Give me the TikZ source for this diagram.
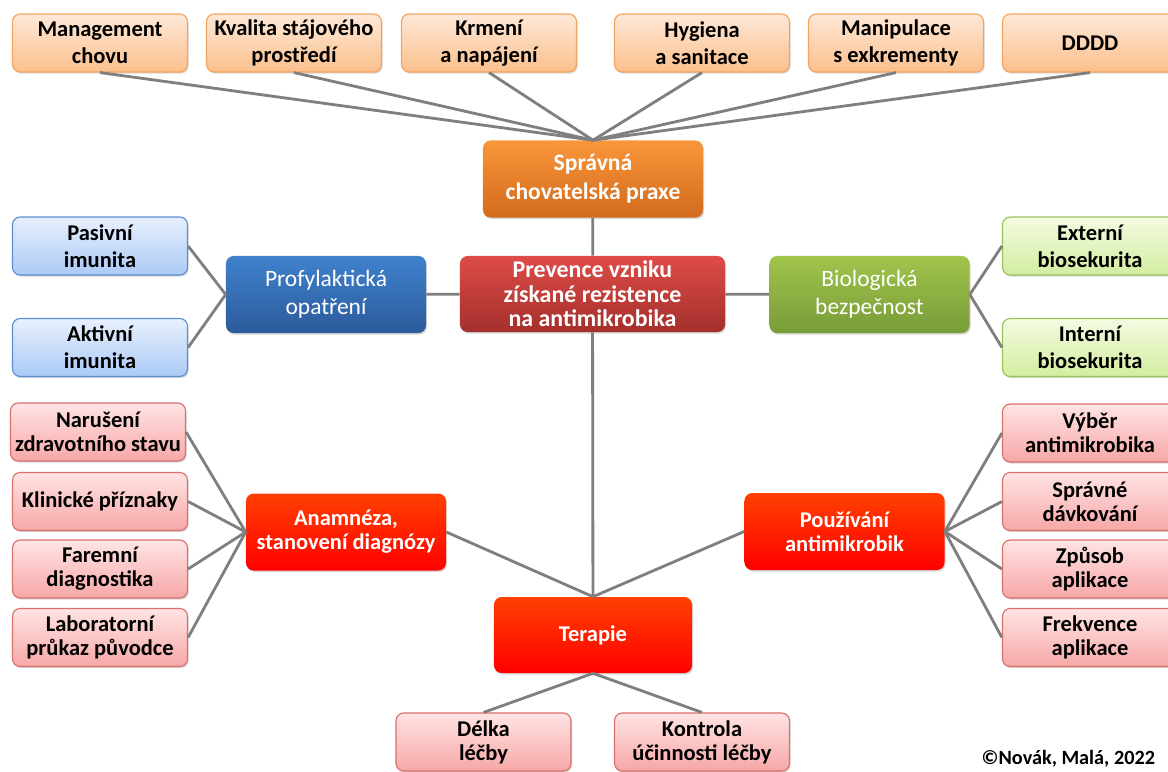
\documentclass[tikz,border=0pt]{standalone}
\usepackage{fontspec}
\setmainfont{Carlito}
\usepackage{xcolor}
\usetikzlibrary{shadows}

\definecolor{peachtop}{HTML}{FEE8D8}
\definecolor{peachbot}{HTML}{FBC08C}
\definecolor{peachrim}{HTML}{F6A35E}
\definecolor{orangetop}{HTML}{F9963A}
\definecolor{orangebot}{HTML}{D26A1C}
\definecolor{darkredtop}{HTML}{DE4C48}
\definecolor{darkredbot}{HTML}{A32F2C}
\definecolor{bluetop}{HTML}{3F81CD}
\definecolor{bluebot}{HTML}{2C5B9B}
\definecolor{greentop}{HTML}{A0C44B}
\definecolor{greenbot}{HTML}{789C38}
\definecolor{skytop}{HTML}{E8F0FD}
\definecolor{skybot}{HTML}{ABCAF6}
\definecolor{skyrim}{HTML}{5B8ED6}
\definecolor{limetop}{HTML}{F4FBE2}
\definecolor{limebot}{HTML}{D3EDA0}
\definecolor{limerim}{HTML}{9BC458}
\definecolor{pinktop}{HTML}{FFE4E4}
\definecolor{pinkbot}{HTML}{F7A7A7}
\definecolor{pinkrim}{HTML}{D8706C}
\definecolor{firetop}{HTML}{FF4000}
\definecolor{firebot}{HTML}{FF0000}
\definecolor{linkgray}{HTML}{7F7F7F}

\begin{document}
\begin{tikzpicture}[x=0.025cm,y=-0.025cm,
		box/.style={rectangle,rounded corners=5.5pt,align=center,inner sep=1pt,
			drop shadow={opacity=0.3,shadow xshift=0.8pt,shadow yshift=-1.2pt}},
		leaf/.style={box,minimum width=4.375cm,minimum height=1.45cm,line width=0.8pt,
			font=\bfseries\fontsize{16}{19}\selectfont},
		peachleaf/.style={leaf,draw=peachrim,top color=peachtop,bottom color=peachbot},
		skyleaf/.style={leaf,draw=skyrim,top color=skytop,bottom color=skybot},
		limeleaf/.style={leaf,draw=limerim,top color=limetop,bottom color=limebot},
		pinkleaf/.style={leaf,draw=pinkrim,top color=pinktop,bottom color=pinkbot,
			font=\bfseries\fontsize{16}{17}\selectfont},
		hub/.style={box,text=white,minimum width=5cm,minimum height=1.925cm,
			font=\bfseries\fontsize{16}{17}\selectfont},
		lighthub/.style={hub,font=\fontsize{16.7}{20}\selectfont},
		firehub/.style={hub,top color=firetop,bottom color=firebot},
		link/.style={draw=linkgray,line width=2pt}]
	\clip (0,0) rectangle (1168,771);
	\fill[white] (0,0) rectangle (1168,771);

	% horni rada
	\node[peachleaf] (management) at (100,43) {Management\\chovu};
	\node[peachleaf] (kvalita) at (294,43) {Kvalita stájového\\prostředí};
	\node[peachleaf] (krmeni) at (489,43) {Krmení\\a napájení};
	\node[peachleaf] (hygiena) at (702,43) {Hygiena\\a sanitace};
	\node[peachleaf] (manipulace) at (896,43) {Manipulace\\s exkrementy};
	\node[peachleaf] (dddd) at (1090,43) {DDDD};

	% hlavni uzly
	\node[hub,minimum width=5.5cm,top color=orangetop,bottom color=orangebot,
		font=\bfseries\fontsize{16.8}{20.6}\selectfont] (praxe) at (593,179) {Správná\\chovatelská praxe};
	\node[hub,minimum width=6.625cm,minimum height=1.9cm,top color=darkredtop,bottom color=darkredbot,
		font=\bfseries\fontsize{17}{17.3}\selectfont] (prevence) at (592.5,294) {Prevence vzniku\\získané rezistence\\na antimikrobika};
	\node[lighthub,top color=bluetop,bottom color=bluebot] (profylaxe) at (326,294.5) {Profylaktická\\opatření};
	\node[lighthub,top color=greentop,bottom color=greenbot] (biobezp) at (869.5,294.5) {Biologická\\bezpečnost};

	\node[skyleaf] (pasivni) at (100,246) {Pasivní\\imunita};
	\node[skyleaf] (aktivni) at (100,347.5) {Aktivní\\imunita};
	\node[limeleaf] (externi) at (1090,246) {Externí\\biosekurita};
	\node[limeleaf] (interni) at (1090,347.5) {Interní\\biosekurita};

	\node[firehub] (anamneza) at (346,532) {Anamnéza,\\stanovení diagnózy};
	\node[firehub] (pouzivani) at (844.5,531.5) {Používání\\antimikrobik};
	\node[firehub,minimum width=4.95cm,minimum height=1.9cm] (terapie) at (593,635) {Terapie};

	\node[pinkleaf] (naruseni) at (98,432) {Narušení\\zdravotního stavu};
	\node[pinkleaf] (priznaky) at (100,501.5) {Klinické příznaky};
	\node[pinkleaf] (faremni) at (100,569) {Faremní\\diagnostika};
	\node[pinkleaf] (laborator) at (100,637.5) {Laboratorní\\průkaz původce};

	\node[pinkleaf] (vyber) at (1090,433) {Výběr\\antimikrobika};
	\node[pinkleaf] (davkovani) at (1090,501.5) {Správné\\dávkování};
	\node[pinkleaf] (zpusob) at (1090,569) {Způsob\\aplikace};
	\node[pinkleaf] (frekvence) at (1090,637.5) {Frekvence\\aplikace};

	\node[pinkleaf] (delka) at (483.5,742) {Délka\\léčby};
	\node[pinkleaf] (kontrola) at (702,742) {Kontrola\\účinnosti léčby};

	\node[anchor=base east,font=\bfseries\fontsize{14.4}{16}\selectfont] (autori) at (1160,764) {©Novák, Malá, 2022};

	% spojnice
	\foreach \n in {management,kvalita,krmeni,hygiena,manipulace,dddd}
		\draw[link] (\n.south) -- (praxe.north);
	\draw[link] (praxe) -- (prevence);
	\draw[link] (prevence) -- (terapie);
	\draw[link] (profylaxe) -- (prevence);
	\draw[link] (prevence) -- (biobezp);
	\draw[link] (pasivni.east) -- (profylaxe.west);
	\draw[link] (aktivni.east) -- (profylaxe.west);
	\draw[link] (biobezp.east) -- (externi.west);
	\draw[link] (biobezp.east) -- (interni.west);
	\foreach \n in {naruseni,priznaky,faremni,laborator}
		\draw[link] (\n.east) -- (anamneza.west);
	\foreach \n in {vyber,davkovani,zpusob,frekvence}
		\draw[link] (pouzivani.east) -- (\n.west);
	\draw[link] (anamneza.east) -- (terapie.north);
	\draw[link] (terapie.north) -- (pouzivani.west);
	\draw[link] (delka.north) -- (terapie.south);
	\draw[link] (kontrola.north) -- (terapie.south);
\end{tikzpicture}
\end{document}
